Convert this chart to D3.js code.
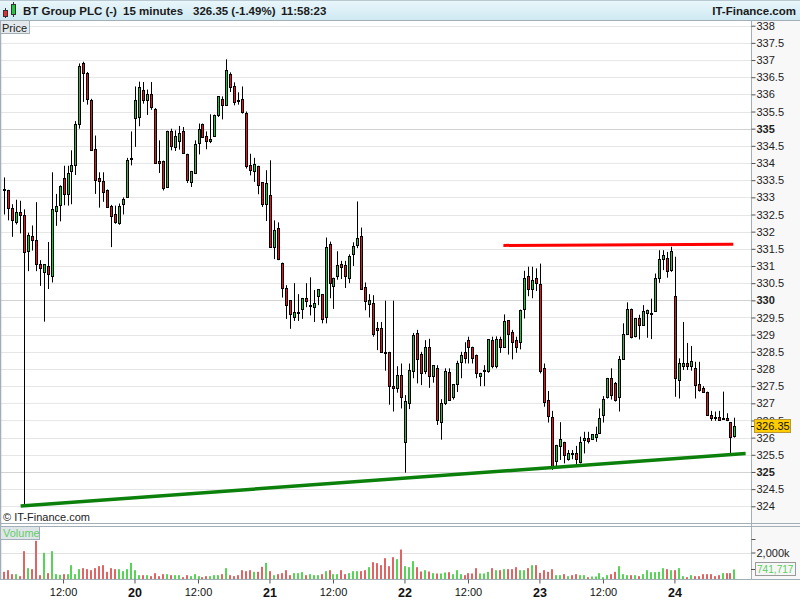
<!DOCTYPE html>
<html><head><meta charset="utf-8">
<script src="https://cdn.jsdelivr.net/npm/d3@7"></script>
<style>
body{margin:0;background:#fff}
svg{display:block}
text{font-family:"Liberation Sans",Arial,sans-serif}
</style>
</head><body>
<svg id="c" width="800" height="600"></svg>
<script>
// ---------------- DATA ----------------
const days = ["19","20","21","22","23","24"];
const sessionTimes = ["08:00","08:15","08:30","08:45","09:00","09:15","09:30","09:45","10:00","10:15","10:30","10:45",
  "11:00","11:15","11:30","11:45","12:00","12:15","12:30","12:45","13:00","13:15","13:30","13:45","14:00","14:15",
  "14:30","14:45","15:00","15:15","15:30","15:45","16:00","16:15"];
const firstBar = "08:15";   // first visible bar on day 19
const lastBar = "11:45";    // last bar on day 24

const open = [
 333.24,333.20,332.70,332.29,332.56,332.50,331.44,331.88,331.77,331.05,330.82,331.00,330.72,332.60,332.78,333.57,333.10,333.77,333.95,335.15,336.92,336.63,335.85,334.42,333.57,333.47,333.22,332.76,332.52,332.25,332.82,333.00,334.15,
 335.30,335.35,336.14,335.85,336.00,335.58,334.07,334.07,333.30,334.94,334.47,334.64,334.92,334.27,333.45,333.71,334.58,335.15,334.78,334.64,334.79,335.41,335.87,335.70,336.58,336.23,335.85,335.87,335.46,333.93,333.77,333.92,333.44,332.82,
 333.08,331.56,332.12,331.10,330.37,330.00,329.50,329.67,329.75,330.07,329.87,329.80,330.13,330.17,329.52,331.63,330.43,330.71,331.07,331.02,330.66,331.36,331.60,331.88,330.40,329.90,329.92,329.18,329.18,328.50,328.50,327.51,327.46,327.82,
 325.88,327.00,327.95,329.04,328.43,327.95,328.64,327.80,328.02,326.45,327.00,327.92,327.19,327.56,328.21,328.50,328.83,328.65,328.42,327.81,327.96,327.95,328.84,328.09,328.86,328.65,329.42,329.07,328.84,328.78,329.75,330.72,330.32,330.66,
 330.49,328.02,327.11,326.59,325.33,325.76,325.88,325.37,325.55,325.55,325.30,325.93,325.98,325.95,326.03,326.13,326.66,327.19,327.74,327.58,327.19,328.28,329.03,329.76,328.96,329.48,329.27,329.62,329.62,329.68,330.66,331.19,331.22,330.88,
 330.13,327.68,328.09,328.16,328.09,328.02,327.55,327.46,327.34,326.66,326.61,326.59,326.56,326.56,326.45,326.05];
const high = [
 333.58,333.22,332.80,332.93,332.90,332.65,331.97,332.18,332.86,331.17,331.05,331.70,333.73,333.10,333.35,333.92,333.92,334.37,335.22,336.90,336.95,336.65,335.87,334.80,333.73,333.73,333.23,332.78,332.76,332.82,333.00,334.15,334.92,
 336.23,336.37,336.36,336.14,336.36,335.60,334.66,334.07,334.94,335.00,334.95,335.08,335.05,334.27,333.77,334.66,335.15,335.15,334.92,335.42,335.41,335.94,335.94,337.02,336.64,336.35,336.06,336.23,335.50,334.27,334.15,333.92,333.44,333.79,
 334.08,332.33,332.27,331.10,330.44,330.00,330.50,330.18,330.07,330.50,330.67,330.30,330.32,330.17,331.83,331.71,330.66,331.43,331.15,331.15,331.34,331.69,332.88,332.12,330.52,330.18,330.15,329.37,329.37,329.99,328.50,329.99,328.08,328.16,
 327.24,328.16,329.05,329.14,328.50,328.84,328.88,328.11,328.11,327.12,328.02,328.02,327.56,328.24,328.50,328.78,328.94,328.65,328.42,327.89,328.11,328.86,328.94,328.95,328.94,329.59,329.42,329.14,328.94,329.73,330.86,330.98,330.98,330.93,
 331.07,328.16,327.36,326.78,325.79,326.45,325.88,325.64,325.64,325.76,326.03,326.17,326.17,326.10,326.32,326.85,327.21,327.74,328.02,327.62,328.38,329.33,329.94,329.76,329.48,329.58,329.86,329.73,330.05,330.78,331.46,331.46,331.41,331.56,
 331.27,328.31,329.37,328.76,328.67,328.21,328.21,327.50,327.34,326.78,326.76,326.78,327.34,326.71,326.45,326.58];
const low = [
 332.50,332.33,331.85,332.21,331.95,324.00,330.85,331.45,330.85,330.42,329.38,330.33,330.52,332.17,332.30,332.77,332.76,332.80,333.65,335.00,335.78,335.70,334.35,333.10,332.70,332.87,332.70,331.55,332.23,332.20,332.50,333.00,333.93,
 334.47,335.07,335.73,335.40,335.55,334.00,333.71,333.20,333.28,334.37,334.35,334.39,334.29,333.42,333.30,333.71,334.25,334.76,334.40,334.58,334.79,335.34,335.27,335.70,336.07,335.68,335.70,335.44,333.84,333.64,333.45,333.09,332.72,332.31,
 331.54,331.20,331.17,330.08,329.46,329.17,329.40,329.40,329.46,329.80,329.56,329.37,329.86,329.33,329.33,330.06,329.75,330.60,330.62,330.36,330.50,331.00,331.52,330.31,329.71,329.50,328.94,328.55,328.50,327.95,326.96,326.76,327.31,326.85,
 324.98,326.83,327.73,327.58,327.53,327.85,327.45,327.60,326.37,325.94,326.95,327.09,327.11,327.33,327.73,328.16,328.16,328.16,327.73,327.50,327.50,327.89,328.02,328.02,328.47,328.65,328.42,328.28,328.47,328.57,329.47,330.12,330.06,330.27,
 327.87,326.90,326.44,325.06,325.16,325.35,325.25,325.33,325.37,325.20,325.25,325.54,325.83,325.93,325.88,326.11,326.44,327.14,327.11,327.05,326.76,328.28,329.03,328.89,328.92,328.86,329.27,328.91,328.87,329.68,330.51,330.88,330.66,330.83,
 327.19,327.14,327.97,327.97,327.95,327.14,327.34,327.34,326.63,326.49,326.49,326.49,326.54,326.48,325.54,326.00];
const close = [
 333.22,332.70,332.35,332.56,332.50,331.41,331.90,331.77,331.05,330.95,331.05,330.77,332.66,332.76,333.32,333.10,333.70,333.95,335.15,336.83,336.63,335.87,334.37,333.50,333.47,333.17,332.72,332.47,332.28,332.76,332.96,334.10,334.15,
 335.85,336.20,335.85,336.00,335.63,334.00,334.00,333.28,334.94,334.50,334.78,334.86,334.29,333.50,333.77,334.56,335.00,334.76,334.64,334.71,335.41,335.94,335.70,336.70,336.21,335.78,335.84,335.48,333.90,333.79,333.96,333.36,332.82,333.43,
 331.54,332.06,331.20,330.37,329.87,329.60,329.67,329.67,330.07,329.99,329.87,329.93,330.32,329.46,331.54,330.51,330.66,331.02,330.97,330.71,331.28,331.57,331.83,330.34,329.98,330.00,329.02,329.13,328.50,328.48,327.51,327.46,327.82,327.19,
 327.06,327.97,328.99,328.28,327.87,328.64,327.80,328.11,326.50,327.00,327.95,327.11,327.56,328.16,328.42,328.31,328.65,328.31,327.87,327.89,327.96,328.86,328.09,328.86,328.65,329.40,329.02,328.78,328.65,329.73,330.66,330.32,330.59,330.51,
 327.95,327.05,326.63,325.14,325.79,325.95,325.49,325.55,325.52,325.37,325.88,326.00,325.90,326.10,326.10,326.58,327.14,327.74,327.24,327.10,328.28,329.03,329.75,328.94,329.48,329.27,329.68,329.73,329.62,330.64,331.19,331.33,330.85,331.43,
 327.73,328.16,328.16,328.09,328.23,327.53,327.39,327.34,326.66,326.58,326.56,326.51,326.56,326.51,326.03,326.35];
// volume in thousands of shares
const volume = [
 568,690,395,395,247,2099,840,765,2864,321,1975,469,2099,395,346,395,395,1062,395,765,840,765,690,840,988,1062,568,840,765,765,617,765,1235,
 690,321,321,321,247,469,247,395,395,321,321,321,173,321,247,395,247,173,247,247,321,321,395,840,321,247,321,690,617,690,568,568,938,1235,
 617,321,395,469,690,321,469,469,543,321,395,321,321,395,617,690,395,395,690,395,469,617,617,617,690,914,1284,1210,1062,1580,988,1654,1506,2222,
 988,914,1358,914,593,690,593,469,445,445,519,543,395,690,395,321,469,445,840,445,445,568,840,690,690,765,765,765,914,690,690,840,1062,1062,
 494,690,568,765,321,321,395,247,321,395,321,321,173,222,222,469,173,321,395,568,988,395,321,321,321,247,395,690,543,543,568,840,765,690,
 690,840,247,173,321,247,247,395,395,395,247,321,469,469,469,741.717];
// trend lines: [bar index, price]
const resistance = [[125.8,331.60],[183.7,331.63]];
const support = [[4.2,324.01],[186.8,325.54]];
const priceDomain = [324,338];
const volumeDomain = [0,3000];
const lastPrice = "326.35";
const lastVolume = "741,717";
const header = {name:"BT Group PLC (-)", period:"15 minutes", quote:"326.35 (-1.49%)", time:"11:58:23", site:"IT-Finance.com"};

// ---------------- BUILD ----------------
const keys = [];
days.forEach((d,di)=>sessionTimes.forEach(t=>{
  if(di===0 && t<firstBar) return;
  if(di===days.length-1 && t>lastBar) return;
  keys.push({day:d,time:t});
}));
const bars = keys.map((k,i)=>({...k,i,o:open[i],h:high[i],l:low[i],c:close[i],v:volume[i]}));

const svg = d3.select("#c");
const AX = 751; // right axis position
const x = d3.scaleBand().domain(d3.range(bars.length)).range([2.0, 2.0 + bars.length*3.97]).padding(0);
const cx = i => x(i) + x.bandwidth()/2;
const xi = d3.scaleLinear().domain([0,bars.length-1]).range([cx(0), cx(bars.length-1)]);
const y = d3.scaleLinear().domain(priceDomain).range([506.3,25.7]);
const yv = d3.scaleLinear().domain(volumeDomain).range([579.5,539]);
const frame = "#a3afb6";

// defs
const defs = svg.append("defs");
const g1 = defs.append("linearGradient").attr("id","hdr").attr("x1",0).attr("y1",0).attr("x2",0).attr("y2",1);
g1.append("stop").attr("offset","0%").attr("stop-color","#eaf7fb");
g1.append("stop").attr("offset","100%").attr("stop-color","#cfe9f3");
defs.append("clipPath").attr("id","clipP").append("rect").attr("x",1).attr("y",21).attr("width",AX-1).attr("height",502);
defs.append("clipPath").attr("id","clipV").append("rect").attr("x",1).attr("y",527).attr("width",AX-1).attr("height",53);

svg.append("rect").attr("width",800).attr("height",600).attr("fill","#fff");
// right axis background
svg.append("rect").attr("x",AX).attr("y",20).attr("width",800-AX).attr("height",560).attr("fill","#f8f8f8");

// header
svg.append("rect").attr("x",0).attr("y",0).attr("width",800).attr("height",20).attr("fill","url(#hdr)");
svg.append("line").attr("x1",0).attr("x2",800).attr("y1",20.5).attr("y2",20.5).attr("stroke",frame);
svg.append("line").attr("x1",0).attr("x2",800).attr("y1",0.5).attr("y2",0.5).attr("stroke","#b8c8d0");
// header icon
svg.append("line").attr("x1",5.5).attr("x2",5.5).attr("y1",8).attr("y2",18).attr("stroke","#333");
svg.append("rect").attr("x",3.5).attr("y",10.5).attr("width",4).attr("height",6).attr("fill","#e23030").attr("stroke","#333");
svg.append("line").attr("x1",13.5).attr("x2",13.5).attr("y1",2).attr("y2",17).attr("stroke","#333");
svg.append("rect").attr("x",11.5).attr("y",4.5).attr("width",4).attr("height",10).attr("fill","#22c83a").attr("stroke","#333");
const ht = svg.append("g").attr("font-size",11.5).attr("font-weight","bold").attr("fill","#1a1a1a");
ht.append("text").attr("x",23).attr("y",15).text(header.name);
ht.append("text").attr("x",123).attr("y",15).text(header.period);
ht.append("text").attr("x",193).attr("y",15).text(header.quote);
ht.append("text").attr("x",281).attr("y",15).text(header.time);
ht.append("text").attr("x",796).attr("y",15).attr("text-anchor","end").text(header.site);

// price gridlines
const pticks = y.ticks(28);
svg.append("g").selectAll("line").data(pticks).join("line")
  .attr("x1",1).attr("x2",AX).attr("y1",d=>Math.round(y(d))+0.5).attr("y2",d=>Math.round(y(d))+0.5)
  .attr("stroke",d=>d%5===0?"#d2d2d2":"#e6e6e6");
// volume gridline
svg.append("line").attr("x1",1).attr("x2",AX).attr("y1",Math.round(yv(2000))+0.5).attr("y2",Math.round(yv(2000))+0.5).attr("stroke","#e2e2e2");

// candles
const gc = svg.append("g").attr("clip-path","url(#clipP)");
const col = d => d.c >= d.o ? "#18c832" : "#ea1218";
gc.selectAll("line.w").data(bars).join("line").attr("class","w")
  .attr("x1",d=>Math.round(cx(d.i))+0.5).attr("x2",d=>Math.round(cx(d.i))+0.5)
  .attr("y1",d=>y(d.h)).attr("y2",d=>y(d.l)).attr("stroke","#000").attr("stroke-width",1);
gc.selectAll("rect.b").data(bars).join("rect").attr("class","b")
  .attr("x",d=>Math.round(cx(d.i))-0.5).attr("width",2)
  .attr("y",d=>Math.round(y(Math.max(d.o,d.c)))+0.5)
  .attr("height",d=>Math.max(1,Math.round(y(Math.min(d.o,d.c)))-Math.round(y(Math.max(d.o,d.c)))))
  .attr("fill",col).attr("stroke","#000").attr("stroke-width",1);

// trend lines
const tl = d3.line().x(d=>xi(d[0])).y(d=>y(d[1]));
gc.append("path").attr("d",tl(resistance)).attr("stroke","#ff0000").attr("stroke-width",3).attr("fill","none");
svg.append("path").attr("d",tl(support)).attr("stroke","#0b800b").attr("stroke-width",3.5).attr("fill","none");

// volume bars
const gv = svg.append("g").attr("clip-path","url(#clipV)");
gv.selectAll("rect").data(bars).join("rect")
  .attr("x",d=>Math.round(cx(d.i))-1).attr("width",2)
  .attr("y",d=>yv(d.v)).attr("height",d=>yv(0)-yv(d.v))
  .attr("fill",d=>d.c>=d.o?"#55d455":"#e06464");

// frames
svg.append("line").attr("x1",0.5).attr("x2",0.5).attr("y1",20).attr("y2",580).attr("stroke",frame).attr("stroke-width",1.5);
svg.append("line").attr("x1",AX+0.5).attr("x2",AX+0.5).attr("y1",20).attr("y2",580).attr("stroke",frame);
svg.append("line").attr("x1",0).attr("x2",800).attr("y1",523.5).attr("y2",523.5).attr("stroke",frame);
svg.append("line").attr("x1",0).attr("x2",800).attr("y1",526.5).attr("y2",526.5).attr("stroke",frame);
svg.append("line").attr("x1",0).attr("x2",800).attr("y1",579.5).attr("y2",579.5).attr("stroke",frame);

// price axis
const pa = svg.append("g").attr("transform",`translate(${AX+0.5},0)`)
  .call(d3.axisRight(y).tickValues(pticks).tickSize(4).tickPadding(1).tickFormat(d3.format("~f")));
pa.select(".domain").remove();
pa.selectAll(".tick line").attr("stroke","#555");
pa.selectAll(".tick text").attr("font-size",11).attr("fill","#222").attr("font-family","Liberation Sans, Arial, sans-serif")
  .attr("font-weight",d=>d%5===0?"bold":"normal");

// last price box
const ly = y(+lastPrice);
svg.append("line").attr("x1",AX).attr("x2",AX+4).attr("y1",Math.round(ly)+0.5).attr("y2",Math.round(ly)+0.5).attr("stroke","#222");
svg.append("rect").attr("x",754.5).attr("y",Math.round(ly)-6.5).attr("width",36).attr("height",13).attr("fill","#ffcc00").attr("stroke","#b89a30");
svg.append("text").attr("x",756).attr("y",ly+4).attr("font-size",11).attr("fill","#111").text(lastPrice);

// volume axis
const va = svg.append("g").attr("transform",`translate(${AX+0.5},0)`)
  .call(d3.axisRight(yv).tickValues([2000,3000]).tickSize(4).tickPadding(1).tickFormat(d=>d===2000?d3.format(",")(d)+"k":""));
va.select(".domain").remove();
va.selectAll(".tick line").attr("stroke","#555");
va.selectAll(".tick text").attr("font-size",11).attr("fill","#222").attr("font-family","Liberation Sans, Arial, sans-serif");
const lv = yv(volume[volume.length-1]);
svg.append("line").attr("x1",AX).attr("x2",AX+4).attr("y1",Math.round(lv)+0.5).attr("y2",Math.round(lv)+0.5).attr("stroke","#555");
svg.append("rect").attr("x",755.5).attr("y",Math.round(lv)-6.5).attr("width",40).attr("height",13).attr("fill","#f6f6f6").attr("stroke","#9a9a9a");
svg.append("text").attr("x",757).attr("y",lv+4).attr("font-size",10.5).attr("textLength",36.5).attr("lengthAdjust","spacingAndGlyphs")
  .attr("fill","#5ccc5c").text(lastVolume);

// labels
svg.append("rect").attr("x",0.5).attr("y",20.5).attr("width",29).attr("height",13).attr("fill","#e3e9ec").attr("stroke",frame);
svg.append("text").attr("x",2).attr("y",31.5).attr("font-size",11).attr("fill","#222").text("Price");
svg.append("text").attr("x",3).attr("y",521).attr("font-size",11).attr("fill","#222").text("© IT-Finance.com");
svg.append("rect").attr("x",0.5).attr("y",526.5).attr("width",39).attr("height",13).attr("fill","#dfe6ea").attr("stroke",frame);
svg.append("text").attr("x",3).attr("y",537).attr("font-size",11).attr("fill","#66cc66").text("Volume");

// time axis
const tks = bars.filter(d=>d.time==="08:00"||d.time==="12:00");
const xa = svg.append("g").attr("transform","translate(0,579.5)")
  .call(d3.axisBottom(x).tickValues(tks.map(d=>d.i)).tickSize(4).tickPadding(5)
    .tickFormat(i=>bars[i].time==="08:00"?bars[i].day:bars[i].time));
xa.select(".domain").remove();
xa.selectAll(".tick line").attr("stroke","#555");
xa.selectAll(".tick text").attr("fill","#111").attr("font-family","Liberation Sans, Arial, sans-serif")
  .attr("font-size",i=>bars[i].time==="08:00"?12.5:11)
  .attr("font-weight",i=>bars[i].time==="08:00"?"bold":"normal");
</script>
</body></html>
